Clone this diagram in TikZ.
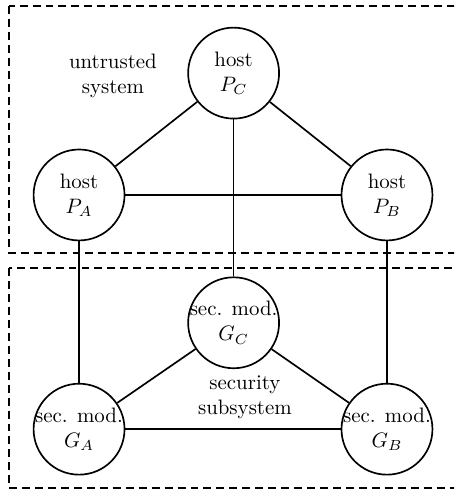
\documentclass[tikz,border=0pt]{standalone}
\usepackage{amsmath}
\usepackage{tikz}
\usetikzlibrary{shapes}

\begin{document}
\begin{tikzpicture}[line width=0.8pt,
  party/.style={draw,circle,minimum size=1.53cm,inner sep=-3pt,align=center},
  zone/.style={dash pattern=on 3.8pt off 2.4pt}]
\clip (-1.33,3.28) rectangle (6.31,-4.98);
\draw[zone] (-1.18,3.18) rectangle (8,-0.98);
\draw[zone] (-1.18,-1.23) rectangle (8,-4.93);
\node[party] (pa) at (0,0) {host\\$P_A$};
\node[party] (pb) at (5.18,0) {host\\$P_B$};
\node[party] (pc) at (2.6,2.05) {host\\$P_C$};
\node[party] (ga) at (0,-3.94) {sec. mod.\\$G_A$};
\node[party] (gb) at (5.18,-3.94) {sec. mod.\\$G_B$};
\node[party] (gc) at (2.6,-2.15) {sec. mod.\\$G_C$};
\node[align=center] (untrusted) at (0.57,2.0) {untrusted\\system};
\node[align=center] (secsys) at (2.79,-3.4) {security\\subsystem};
\draw (pa) -- (pb);
\draw (pa) -- (pc);
\draw (pc) -- (pb);
\draw (pc) -- (gc);
\draw (pa) -- (ga);
\draw (pb) -- (gb);
\draw (ga) -- (gb);
\draw (ga) -- (gc);
\draw (gc) -- (gb);
\end{tikzpicture}
\end{document}
